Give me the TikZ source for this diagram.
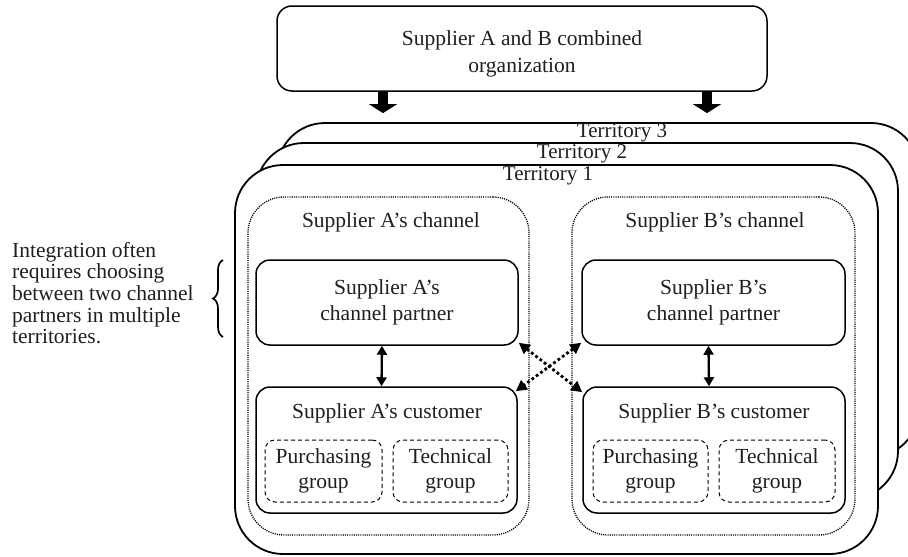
\documentclass[tikz,border=0pt]{standalone}
\usepackage{fontspec}
\setmainfont{Liberation Serif}
\usetikzlibrary{decorations.pathreplacing,arrows.meta,calc}
\begin{document}
\begin{tikzpicture}[x=1pt,y=-1pt,
  every node/.style={font=\fontsize{21.5}{26.5}\selectfont, text=black!88, inner sep=0pt},
  terr/.style={draw, line width=1.8pt, rounded corners=48pt, fill=white},
  chan/.style={draw, line width=1.3pt, dash pattern=on 1.1pt off 1.1pt, rounded corners=36pt},
  bx/.style={draw, line width=1.5pt, rounded corners=14pt, align=center},
  grp/.style={draw, line width=1pt, rounded corners=10pt, align=center, dash pattern=on 4pt off 3pt},
  blk/.style={line width=10pt, -{Triangle[length=9pt,width=28pt]}},
  dbl/.style={line width=2.3pt, {Triangle[length=9pt,width=10pt]}-{Triangle[length=9pt,width=10pt]}},
  xarr/.style={line width=2.8pt, dash pattern=on 2.8pt off 2.6pt, {Triangle[length=11pt,width=11pt]}-{Triangle[length=11pt,width=11pt]}},
]
\useasboundingbox (0,0) rectangle (908,557);

% top organisation
\node[bx, rounded corners=15pt, minimum width=490pt, minimum height=85pt] (top) at (522,48.5) {};
\node[align=center] (toplbl) at (522,54) {Supplier A and B combined\\organization};

% territories
\node[terr, minimum width=642pt, minimum height=334pt] (t3) at (598,290) {};
\node[terr, minimum width=642pt, minimum height=356pt] (t2) at (577,321) {};
\node[terr, minimum width=643pt, minimum height=389pt] (t1) at (556.5,359.5) {};

\node[font=\fontsize{21}{24}\selectfont] (t3l) at (622,133) {Territory 3};
\node[font=\fontsize{21}{24}\selectfont] (t2l) at (582,154) {Territory 2};
\node[font=\fontsize{21}{24}\selectfont] (t1l) at (548,176) {Territory 1};

% block arrows
\draw[blk] ($(top.south)+(-139,0)$) -- ($(t3.north)+(-215,-9)$);
\draw[blk] ($(top.south)+(185,0)$) -- ($(t3.north)+(109,-9)$);

% channels
\node[chan, minimum width=281pt, minimum height=338pt] (cha) at (388.5,366) {};
\node[chan, minimum width=283pt, minimum height=338pt] (chb) at (713.5,366) {};
\node (chal) at (391,222) {Supplier A's channel};
\node (chbl) at (715,222) {Supplier B's channel};

% partners
\node[bx, minimum width=262pt, minimum height=85pt] (pa) at (387,302.5) {Supplier A's\\channel partner};
\node[bx, minimum width=263pt, minimum height=85pt] (pb) at (713.5,302.5) {Supplier B's\\channel partner};

% customers
\node[bx, minimum width=261pt, minimum height=126pt] (ca) at (386.5,450) {};
\node[bx, minimum width=262pt, minimum height=126pt] (cb) at (714,450) {};
\node (cal) at (387,413) {Supplier A's customer};
\node (cbl) at (714,413) {Supplier B's customer};

% groups
\node[grp, minimum width=117pt, minimum height=62pt, font=\fontsize{21.5}{25}\selectfont] (pga) at (323.5,471) {Purchasing\\group};
\node[grp, minimum width=115pt, minimum height=62pt, font=\fontsize{21.5}{25}\selectfont] (tga) at (450.5,471) {Technical\\group};
\node[grp, minimum width=115pt, minimum height=62pt, font=\fontsize{21.5}{25}\selectfont] (pgb) at (650.5,471) {Purchasing\\group};
\node[grp, minimum width=116pt, minimum height=62pt, font=\fontsize{21.5}{25}\selectfont] (tgb) at (777,471) {Technical\\group};

% partner <-> customer
\draw[dbl] ([xshift=-5pt]pa.south) -- ([xshift=-5pt]ca.north);
\draw[dbl] ([xshift=-5pt]pb.south) -- ([xshift=-5pt]cb.north);

% crossing dotted arrows
\draw[xarr] ([yshift=3pt]pa.south east) -- ([yshift=-6pt]cb.north west);
\draw[xarr] ([yshift=3pt]pb.south west) -- ([xshift=-2pt,yshift=-5pt]ca.north east);

% brace and note
\coordinate (b1) at (223,337);
\coordinate (b2) at (223,260);
\draw[decorate, decoration={brace, amplitude=10pt}, line width=1.7pt] (b1) -- (b2);
\node[align=left, anchor=west, font=\fontsize{21.5}{21.7}\selectfont] (note) at (12,293) {Integration often\\requires choosing\\between two channel\\partners in multiple\\territories.};
\end{tikzpicture}
\end{document}
